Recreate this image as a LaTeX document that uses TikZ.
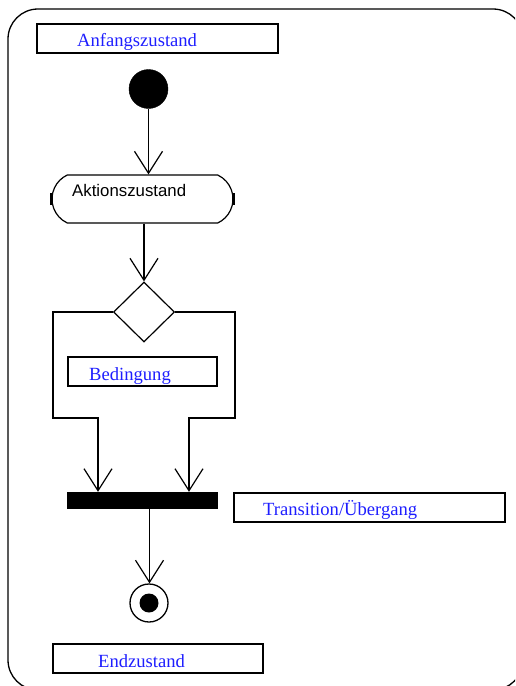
\documentclass[tikz,border=0pt]{standalone}
\usepackage{fontspec}
\setmainfont{Liberation Serif}
\setsansfont{Liberation Sans}
\usetikzlibrary{arrows.meta,shapes.geometric,shapes.misc}
\definecolor{labelblue}{RGB}{30,30,255}

\begin{document}
\begin{tikzpicture}[x=1pt,y=-1pt]
\tikzset{
  frame/.style={line width=1.3pt,rounded corners=30pt},
  startnode/.style={circle,fill=black,draw=black,minimum size=39pt,inner sep=0pt},
  endnode/.style={circle,draw,line width=1.3pt,minimum size=38pt,inner sep=0pt},
  enddot/.style={circle,fill=black,minimum size=19pt,inner sep=0pt},
  actionnode/.style={rounded rectangle,rounded rectangle arc length=130,draw,line width=1.2pt,
    minimum width=181pt,minimum height=48pt,inner sep=0pt},
  decisionnode/.style={diamond,draw,line width=1.2pt,minimum width=61pt,minimum height=60pt,inner sep=0pt},
  barnode/.style={rectangle,fill=black,minimum width=151pt,minimum height=17pt,inner sep=0pt},
  labelbox/.style={rectangle,draw,line width=1.2pt,minimum height=29pt,inner sep=0pt},
  labeltext/.style={anchor=base west,inner sep=0pt,text=labelblue,font=\fontsize{18.6}{22}\selectfont},
  flow/.style={-{Straight Barb[length=22pt,width=28pt]},line width=1.2pt},
  branch/.style={line width=1.2pt}
}
\useasboundingbox (0,0) rectangle (515,686);
\begin{scope}
  \clip (0,0) rectangle (515,686);
  \draw[frame] (8,9) rectangle (523,690);
\end{scope}
% label boxes
\node[labelbox,minimum width=241pt] (n_anfbox) at (157.5,38.5) {};
\node[labelbox,minimum width=149pt] (n_bedbox) at (142.5,371.5) {};
\node[labelbox,minimum width=271pt] (n_trbox) at (369.5,507.5) {};
\node[labelbox,minimum width=210pt] (n_endbox) at (158,658.5) {};
\node[labeltext] (n_anftext) at (77,46.5) {Anfangszustand};
\node[labeltext] (n_bedtext) at (89,380) {Bedingung};
\node[labeltext] (n_trtext) at (263,515) {Transition/Übergang};
\node[labeltext] (n_endtext) at (98,667) {Endzustand};
% states
\node[startnode] (n_start) at (148.5,89) {};
\node[actionnode] (n_act) at (142.5,199) {};
\node[anchor=base west,inner sep=0pt,font=\sffamily\fontsize{16.8}{20}\selectfont] (n_acttext) at (72,196.5) {Aktionszustand};
\draw[line width=2.4pt] ([yshift=-6pt]n_act.west) -- ([yshift=6pt]n_act.west);
\draw[line width=2.4pt] ([yshift=-6pt]n_act.east) -- ([yshift=6pt]n_act.east);
\node[decisionnode] (n_dec) at (144,312) {};
\node[barnode] (n_bar) at (142.5,500.5) {};
\node[endnode] (n_end) at (149,603) {};
\node[enddot] (n_enddot) at (n_end) {};
\coordinate (n_lbend) at (53,418);
\coordinate (n_rbend) at (235,418);
% transitions
\draw[flow] (n_start.south) -- (n_start.south |- n_act.north);
\draw[flow] (n_act.south -| n_dec.north) -- (n_dec.north);
\draw[flow] (n_dec.west) -| (n_lbend) -| ([xshift=-44.5pt]n_bar.north);
\draw[flow] (n_dec.east) -| (n_rbend) -| ([xshift=46.5pt]n_bar.north);
\draw[flow] ([xshift=7pt]n_bar.south) -- ([xshift=7pt]n_bar.south |- n_end.north);
\end{tikzpicture}
\end{document}
